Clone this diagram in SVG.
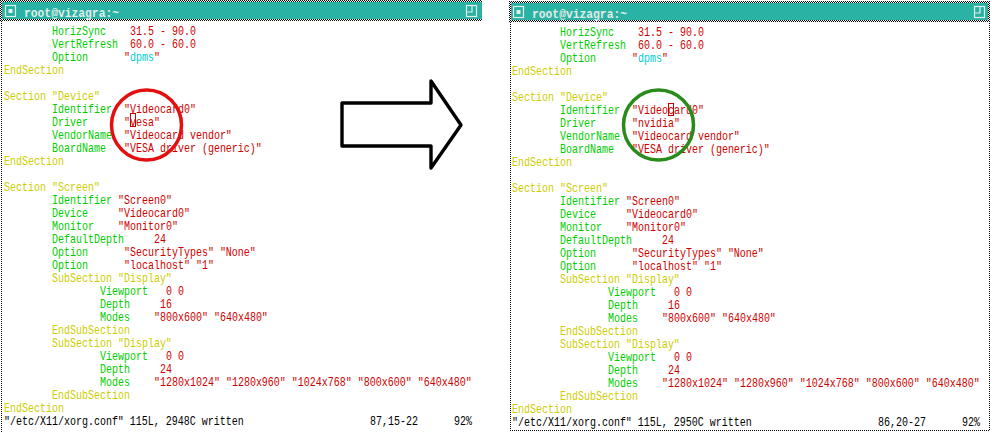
<svg xmlns="http://www.w3.org/2000/svg" width="992" height="432" viewBox="0 0 992 432">
<style>
text{font-family:"Liberation Mono","DejaVu Sans Mono",monospace;font-size:12px}
.ttl{font-family:"Liberation Mono","DejaVu Sans Mono",monospace;font-size:13px;font-weight:bold;fill:#e2ece9}
.g{fill:#00cd00}.r{fill:#cd0000}.y{fill:#cdcd00}.c{fill:#00cdcd}.k{fill:#000}
.bar{fill:#2ab3a4}
.ico{fill:none;stroke:#e2ece9;stroke-width:1.2}
</style>
<defs>
<pattern id="chk" width="2" height="2" patternUnits="userSpaceOnUse">
<rect width="2" height="2" fill="#fff"/><rect width="1" height="1" fill="#000"/><rect x="1" y="1" width="1" height="1" fill="#000"/>
</pattern>
</defs>
<rect width="992" height="432" fill="#fff"/>

<g id="left-window">
<rect class="bar" x="0" y="0" width="482" height="21"/>
<rect x="0" y="0" width="482" height="2" fill="url(#chk)"/>
<rect x="0" y="19" width="482" height="2" fill="url(#chk)"/>
<rect x="0" y="0" width="2" height="21" fill="url(#chk)"/>
<rect x="1" y="21" width="1" height="411" fill="url(#chk)"/>
<rect class="ico" x="5.5" y="5.5" width="10" height="11"/>
<rect x="8.5" y="9" width="4" height="4" fill="#e2ece9"/>
<text class="ttl" x="24" y="16.8" textLength="95" lengthAdjust="spacingAndGlyphs">root@vizagra:~</text>
<rect class="ico" x="466.5" y="5.5" width="10" height="11"/>
<path class="ico" d="M472,5.5V12H466.5"/>
<g transform="translate(4,0) scale(0.833333,1)">
<text y="35.5"><tspan class="g" x="57.6">HorizSync</tspan><tspan class="r" x="151.2">31.5 - 90.0</tspan></text>
<text y="48.5"><tspan class="g" x="57.6">VertRefresh</tspan><tspan class="r" x="151.2">60.0 - 60.0</tspan></text>
<text y="61.5"><tspan class="g" x="57.6">Option</tspan><tspan class="r" x="144">"</tspan><tspan class="c">dpms</tspan><tspan class="r">"</tspan></text>
<text y="74.5" class="y" x="0">EndSection</text>
<text y="100.5" class="y" x="0">Section "Device"</text>
<text y="113.5"><tspan class="g" x="57.6">Identifier</tspan><tspan class="r" x="144">"Videocard0"</tspan></text>
<text y="126.5"><tspan class="g" x="57.6">Driver</tspan><tspan class="r" x="144">"vesa"</tspan></text>
<text y="139.5"><tspan class="g" x="57.6">VendorName</tspan><tspan class="r" x="144">"Videocard vendor"</tspan></text>
<text y="152.5"><tspan class="g" x="57.6">BoardName</tspan><tspan class="r" x="144">"VESA driver (generic)"</tspan></text>
<text y="165.5" class="y" x="0">EndSection</text>
<text y="191.5" class="y" x="0">Section "Screen"</text>
<text y="204.5"><tspan class="g" x="57.6">Identifier</tspan><tspan class="r" x="136.8">"Screen0"</tspan></text>
<text y="217.5"><tspan class="g" x="57.6">Device</tspan><tspan class="r" x="136.8">"Videocard0"</tspan></text>
<text y="230.5"><tspan class="g" x="57.6">Monitor</tspan><tspan class="r" x="136.8">"Monitor0"</tspan></text>
<text y="243.5"><tspan class="g" x="57.6">DefaultDepth</tspan><tspan class="r" x="180">24</tspan></text>
<text y="256.5"><tspan class="g" x="57.6">Option</tspan><tspan class="r" x="144">"SecurityTypes" "None"</tspan></text>
<text y="269.5"><tspan class="g" x="57.6">Option</tspan><tspan class="r" x="144">"localhost" "1"</tspan></text>
<text y="282.5" class="y" x="57.6">SubSection "Display"</text>
<text y="295.5"><tspan class="g" x="115.2">Viewport</tspan><tspan class="r" x="194.4">0 0</tspan></text>
<text y="308.5"><tspan class="g" x="115.2">Depth</tspan><tspan class="r" x="187.2">16</tspan></text>
<text y="321.5"><tspan class="g" x="115.2">Modes</tspan><tspan class="r" x="180">"800x600" "640x480"</tspan></text>
<text y="334.5" class="y" x="57.6">EndSubSection</text>
<text y="347.5" class="y" x="57.6">SubSection "Display"</text>
<text y="360.5"><tspan class="g" x="115.2">Viewport</tspan><tspan class="r" x="194.4">0 0</tspan></text>
<text y="373.5"><tspan class="g" x="115.2">Depth</tspan><tspan class="r" x="187.2">24</tspan></text>
<text y="386.5"><tspan class="g" x="115.2">Modes</tspan><tspan class="r" x="180">"1280x1024" "1280x960" "1024x768" "800x600" "640x480"</tspan></text>
<text y="399.5" class="y" x="57.6">EndSubSection</text>
<text y="412.5" class="y" x="0">EndSection</text>
<text y="425.5" class="k"><tspan x="0">"/etc/X11/xorg.conf" 115L, 2948C written</tspan><tspan x="439.2">87,15-22</tspan><tspan x="540">92%</tspan></text>
</g>
<rect x="130.5" y="113.5" width="5" height="13" fill="none" stroke="#cd0000" stroke-width="1"/>
<circle cx="146.5" cy="125" r="35" fill="none" stroke="#e41010" stroke-width="3.5"/>
</g>

<g id="arrow">
<polygon points="342,103 431,103 431,81 461,125 431,168 431,146 342,146" fill="#fff" stroke="#000" stroke-width="3.4" stroke-linejoin="round"/>
</g>

<g id="right-window">
<rect class="bar" x="509" y="1" width="481" height="21"/>
<rect x="509" y="1" width="481" height="2" fill="url(#chk)"/>
<rect x="509" y="20" width="481" height="2" fill="url(#chk)"/>
<rect x="509" y="1" width="2" height="21" fill="url(#chk)"/>
<rect x="988" y="1" width="2" height="21" fill="url(#chk)"/>
<rect x="510" y="22" width="1" height="409" fill="url(#chk)"/>
<rect x="989" y="22" width="1" height="409" fill="url(#chk)"/>
<rect x="509" y="430" width="481" height="1" fill="url(#chk)"/>
<rect class="ico" x="513.5" y="6.5" width="10" height="11"/>
<rect x="516.5" y="10" width="4" height="4" fill="#e2ece9"/>
<text class="ttl" x="532" y="17.8" textLength="95" lengthAdjust="spacingAndGlyphs">root@vizagra:~</text>
<rect class="ico" x="974.5" y="6.5" width="10" height="11"/>
<path class="ico" d="M980,6.5V13H974.5"/>
<g transform="translate(512,1) scale(0.833333,1)">
<text y="35.5"><tspan class="g" x="57.6">HorizSync</tspan><tspan class="r" x="151.2">31.5 - 90.0</tspan></text>
<text y="48.5"><tspan class="g" x="57.6">VertRefresh</tspan><tspan class="r" x="151.2">60.0 - 60.0</tspan></text>
<text y="61.5"><tspan class="g" x="57.6">Option</tspan><tspan class="r" x="144">"</tspan><tspan class="c">dpms</tspan><tspan class="r">"</tspan></text>
<text y="74.5" class="y" x="0">EndSection</text>
<text y="100.5" class="y" x="0">Section "Device"</text>
<text y="113.5"><tspan class="g" x="57.6">Identifier</tspan><tspan class="r" x="144">"Videocard0"</tspan></text>
<text y="126.5"><tspan class="g" x="57.6">Driver</tspan><tspan class="r" x="144">"nvidia"</tspan></text>
<text y="139.5"><tspan class="g" x="57.6">VendorName</tspan><tspan class="r" x="144">"Videocard vendor"</tspan></text>
<text y="152.5"><tspan class="g" x="57.6">BoardName</tspan><tspan class="r" x="144">"VESA driver (generic)"</tspan></text>
<text y="165.5" class="y" x="0">EndSection</text>
<text y="191.5" class="y" x="0">Section "Screen"</text>
<text y="204.5"><tspan class="g" x="57.6">Identifier</tspan><tspan class="r" x="136.8">"Screen0"</tspan></text>
<text y="217.5"><tspan class="g" x="57.6">Device</tspan><tspan class="r" x="136.8">"Videocard0"</tspan></text>
<text y="230.5"><tspan class="g" x="57.6">Monitor</tspan><tspan class="r" x="136.8">"Monitor0"</tspan></text>
<text y="243.5"><tspan class="g" x="57.6">DefaultDepth</tspan><tspan class="r" x="180">24</tspan></text>
<text y="256.5"><tspan class="g" x="57.6">Option</tspan><tspan class="r" x="144">"SecurityTypes" "None"</tspan></text>
<text y="269.5"><tspan class="g" x="57.6">Option</tspan><tspan class="r" x="144">"localhost" "1"</tspan></text>
<text y="282.5" class="y" x="57.6">SubSection "Display"</text>
<text y="295.5"><tspan class="g" x="115.2">Viewport</tspan><tspan class="r" x="194.4">0 0</tspan></text>
<text y="308.5"><tspan class="g" x="115.2">Depth</tspan><tspan class="r" x="187.2">16</tspan></text>
<text y="321.5"><tspan class="g" x="115.2">Modes</tspan><tspan class="r" x="180">"800x600" "640x480"</tspan></text>
<text y="334.5" class="y" x="57.6">EndSubSection</text>
<text y="347.5" class="y" x="57.6">SubSection "Display"</text>
<text y="360.5"><tspan class="g" x="115.2">Viewport</tspan><tspan class="r" x="194.4">0 0</tspan></text>
<text y="373.5"><tspan class="g" x="115.2">Depth</tspan><tspan class="r" x="187.2">24</tspan></text>
<text y="386.5"><tspan class="g" x="115.2">Modes</tspan><tspan class="r" x="180">"1280x1024" "1280x960" "1024x768" "800x600" "640x480"</tspan></text>
<text y="399.5" class="y" x="57.6">EndSubSection</text>
<text y="412.5" class="y" x="0">EndSection</text>
<text y="425.5" class="k"><tspan x="0">"/etc/X11/xorg.conf" 115L, 2950C written</tspan><tspan x="439.2">86,20-27</tspan><tspan x="540">92%</tspan></text>
</g>
<rect x="668.5" y="103.5" width="5" height="12" fill="none" stroke="#cd0000" stroke-width="1"/>
<circle cx="658.5" cy="125" r="35" fill="none" stroke="#2a8a1c" stroke-width="3.5"/>
</g>
</svg>
